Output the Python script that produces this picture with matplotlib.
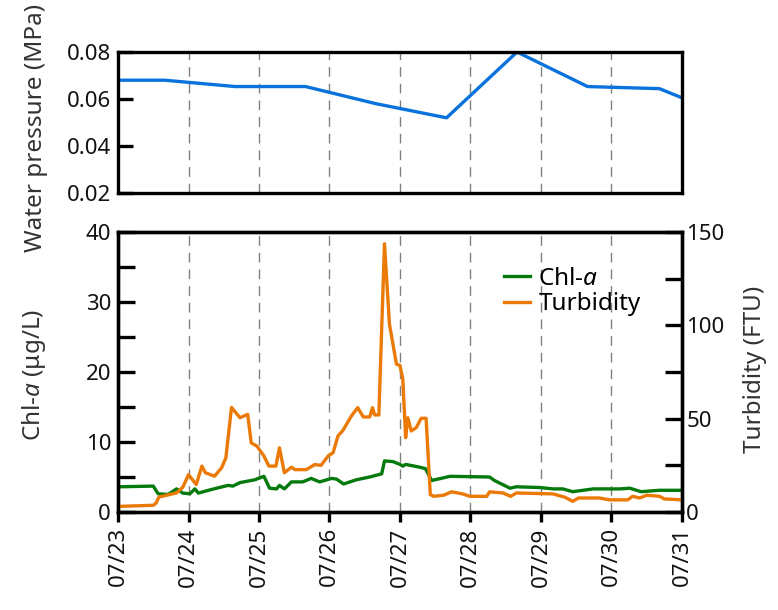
import matplotlib
matplotlib.use("Agg")
import matplotlib.pyplot as plt
from matplotlib.ticker import MultipleLocator

plt.rcParams['font.family'] = ['Noto Sans', 'DejaVu Sans']
plt.rcParams['mathtext.fontset'] = 'custom'
plt.rcParams['mathtext.it'] = 'Noto Sans:italic'
plt.rcParams['mathtext.rm'] = 'Noto Sans'

# Data (x in days since 07/23 00:00)
day_labels = ["07/23", "07/24", "07/25", "07/26", "07/27", "07/28", "07/29", "07/30", "07/31"]

pressure_t = [0.0, 0.66, 1.66, 2.66, 3.66, 4.66, 5.66, 6.66, 7.68, 8.0]
pressure_v = [0.068, 0.068, 0.0653, 0.0653, 0.058, 0.052, 0.080, 0.0653, 0.0644, 0.0605]

chl_t = [0.0, 0.50, 0.57, 0.71, 0.83, 0.92, 1.02, 1.09, 1.14, 1.32, 1.56, 1.63, 1.73,
         1.94, 2.07, 2.15, 2.25, 2.29, 2.36, 2.46, 2.62, 2.74, 2.86, 3.03, 3.10, 3.20,
         3.38, 3.57, 3.74, 3.78, 3.90, 4.00, 4.04, 4.08, 4.28, 4.36, 4.45, 4.71, 5.27,
         5.34, 5.56, 5.65, 5.98, 6.17, 6.31, 6.45, 6.74, 7.12, 7.26, 7.42, 7.68, 8.0]
chl_v = [3.6, 3.7, 2.6, 2.5, 3.3, 2.7, 2.6, 3.3, 2.7, 3.2, 3.8, 3.7, 4.2,
         4.6, 5.1, 3.4, 3.3, 3.8, 3.3, 4.3, 4.3, 4.8, 4.3, 4.8, 4.7, 4.0,
         4.6, 5.0, 5.45, 7.3, 7.2, 6.8, 6.55, 6.8, 6.4, 6.2, 4.5, 5.1, 5.0,
         4.5, 3.4, 3.6, 3.5, 3.3, 3.3, 2.9, 3.3, 3.3, 3.4, 2.9, 3.1, 3.1]

turb_t = [0.0, 0.50, 0.54, 0.58, 0.83, 0.92, 1.00, 1.11, 1.19, 1.24, 1.37, 1.47, 1.53,
          1.61, 1.73, 1.84, 1.89, 1.97, 2.07, 2.14, 2.24, 2.29, 2.36, 2.46, 2.51, 2.67,
          2.79, 2.88, 2.98, 3.05, 3.12, 3.19, 3.31, 3.40, 3.48, 3.57, 3.61, 3.64, 3.70,
          3.78, 3.85, 3.95, 4.00, 4.04, 4.08, 4.11, 4.16, 4.23, 4.30, 4.37, 4.43, 4.48,
          4.62, 4.73, 4.89, 4.99, 5.23, 5.27, 5.46, 5.57, 5.65, 6.17, 6.34, 6.45, 6.53,
          6.83, 6.97, 7.23, 7.30, 7.40, 7.50, 7.68, 7.75, 8.0]
turb_v = [3.0, 3.6, 4.8, 8.0, 10.2, 13.3, 20.0, 14.7, 24.6, 21.0, 19.2, 23.7, 29.0,
          56.0, 50.5, 52.3, 37.0, 35.3, 30.0, 24.6, 24.6, 34.4, 21.0, 24.0, 22.7, 22.7,
          25.4, 25.0, 30.0, 31.7, 40.7, 43.7, 51.4, 55.9, 50.9, 50.9, 55.9, 52.0, 52.0,
          143.7, 100.7, 79.2, 78.5, 71.1, 39.8, 50.5, 43.4, 45.2, 50.2, 50.2, 9.3, 8.4,
          9.0, 10.8, 9.7, 8.4, 8.4, 10.8, 10.2, 8.4, 10.2, 9.7, 7.9, 5.7, 7.5,
          7.5, 6.5, 6.5, 8.4, 7.5, 9.0, 8.4, 7.0, 6.5]

BLUE = "#0a72dc"
GREEN = "#037a0b"
ORANGE = "#ea7a05"
LW_SPINE = 2.4
FS_TICK = 16
FS_LABEL = 17.5

fig = plt.figure(figsize=(7.78, 6.10), dpi=100)
ax1 = fig.add_axes([118/778, 1-193/610, 564/778, 141/610])
ax2 = fig.add_axes([118/778, 1-512/610, 564/778, 280/610])
ax3 = ax2.twinx()

days = list(range(len(day_labels)))

# Top panel
ax1.plot(pressure_t, pressure_v, color=BLUE, lw=2.4)
ax1.set_xlim(0, 8)
ax1.set_ylim(0.02, 0.08)
ax1.set_yticks([0.02, 0.04, 0.06, 0.08])
ax1.set_yticklabels(["0.02", "0.04", "0.06", "0.08"])
ax1.set_xticks(days)
ax1.tick_params(axis='x', length=0, labelbottom=False)
ax1.tick_params(axis='y', direction='in', length=11, width=LW_SPINE, labelsize=FS_TICK, pad=5)
ax1.set_ylabel("Water pressure (MPa)", fontsize=FS_LABEL, color="#333333")
ax1.yaxis.set_label_coords(-0.124, 0.46)
for x in days[1:-1]:
    ax1.axvline(x, color="#808080", lw=1.0, ls=(0, (7, 5)), zorder=0)

# Bottom panel
l1, = ax2.plot(chl_t, chl_v, color=GREEN, lw=2.4, label="Chl-$\\mathit{a}$")
l2, = ax3.plot(turb_t, turb_v, color=ORANGE, lw=2.4, label="Turbidity")
ax2.set_xlim(0, 8)
ax2.set_ylim(0, 40)
ax3.set_ylim(0, 150)
ax2.yaxis.set_major_locator(MultipleLocator(10))
ax2.yaxis.set_minor_locator(MultipleLocator(5))
ax3.yaxis.set_major_locator(MultipleLocator(50))
ax3.yaxis.set_minor_locator(MultipleLocator(25))
ax2.tick_params(axis='y', which='both', direction='in', length=12, width=LW_SPINE, labelsize=FS_TICK, pad=5)
ax3.tick_params(axis='y', which='both', direction='in', length=12, width=LW_SPINE, labelsize=FS_TICK, pad=3)
ax2.set_xticks(days)
ax2.set_xticklabels(day_labels, rotation=90, fontsize=FS_TICK)
ax2.tick_params(axis='x', direction='out', length=7, width=LW_SPINE, pad=4)
for x in days[1:-1]:
    ax2.axvline(x, color="#808080", lw=1.0, ls=(0, (7, 5)), zorder=0)
ax2.set_ylabel("Chl-$\\mathit{a}$ (μg/L)", fontsize=FS_LABEL, color="#333333")
ax2.yaxis.set_label_coords(-0.124, 0.49)
ax3.set_ylabel("Turbidity (FTU)", fontsize=FS_LABEL, color="#333333")
ax3.yaxis.set_label_coords(1.108, 0.51)

ax3.legend(handles=[l1, l2], loc='upper left', bbox_to_anchor=(0.685, 0.875),
           frameon=False, fontsize=FS_LABEL, handlelength=1.05, handletextpad=0.35,
           labelspacing=0.05, borderaxespad=0, borderpad=0)

for ax in (ax1, ax2, ax3):
    for s in ax.spines.values():
        s.set_linewidth(LW_SPINE)
for t in ax1.get_yticklabels() + ax2.get_yticklabels() + ax3.get_yticklabels() + ax2.get_xticklabels():
    t.set_color("#111111")

fig.savefig("out.png", dpi=100)
